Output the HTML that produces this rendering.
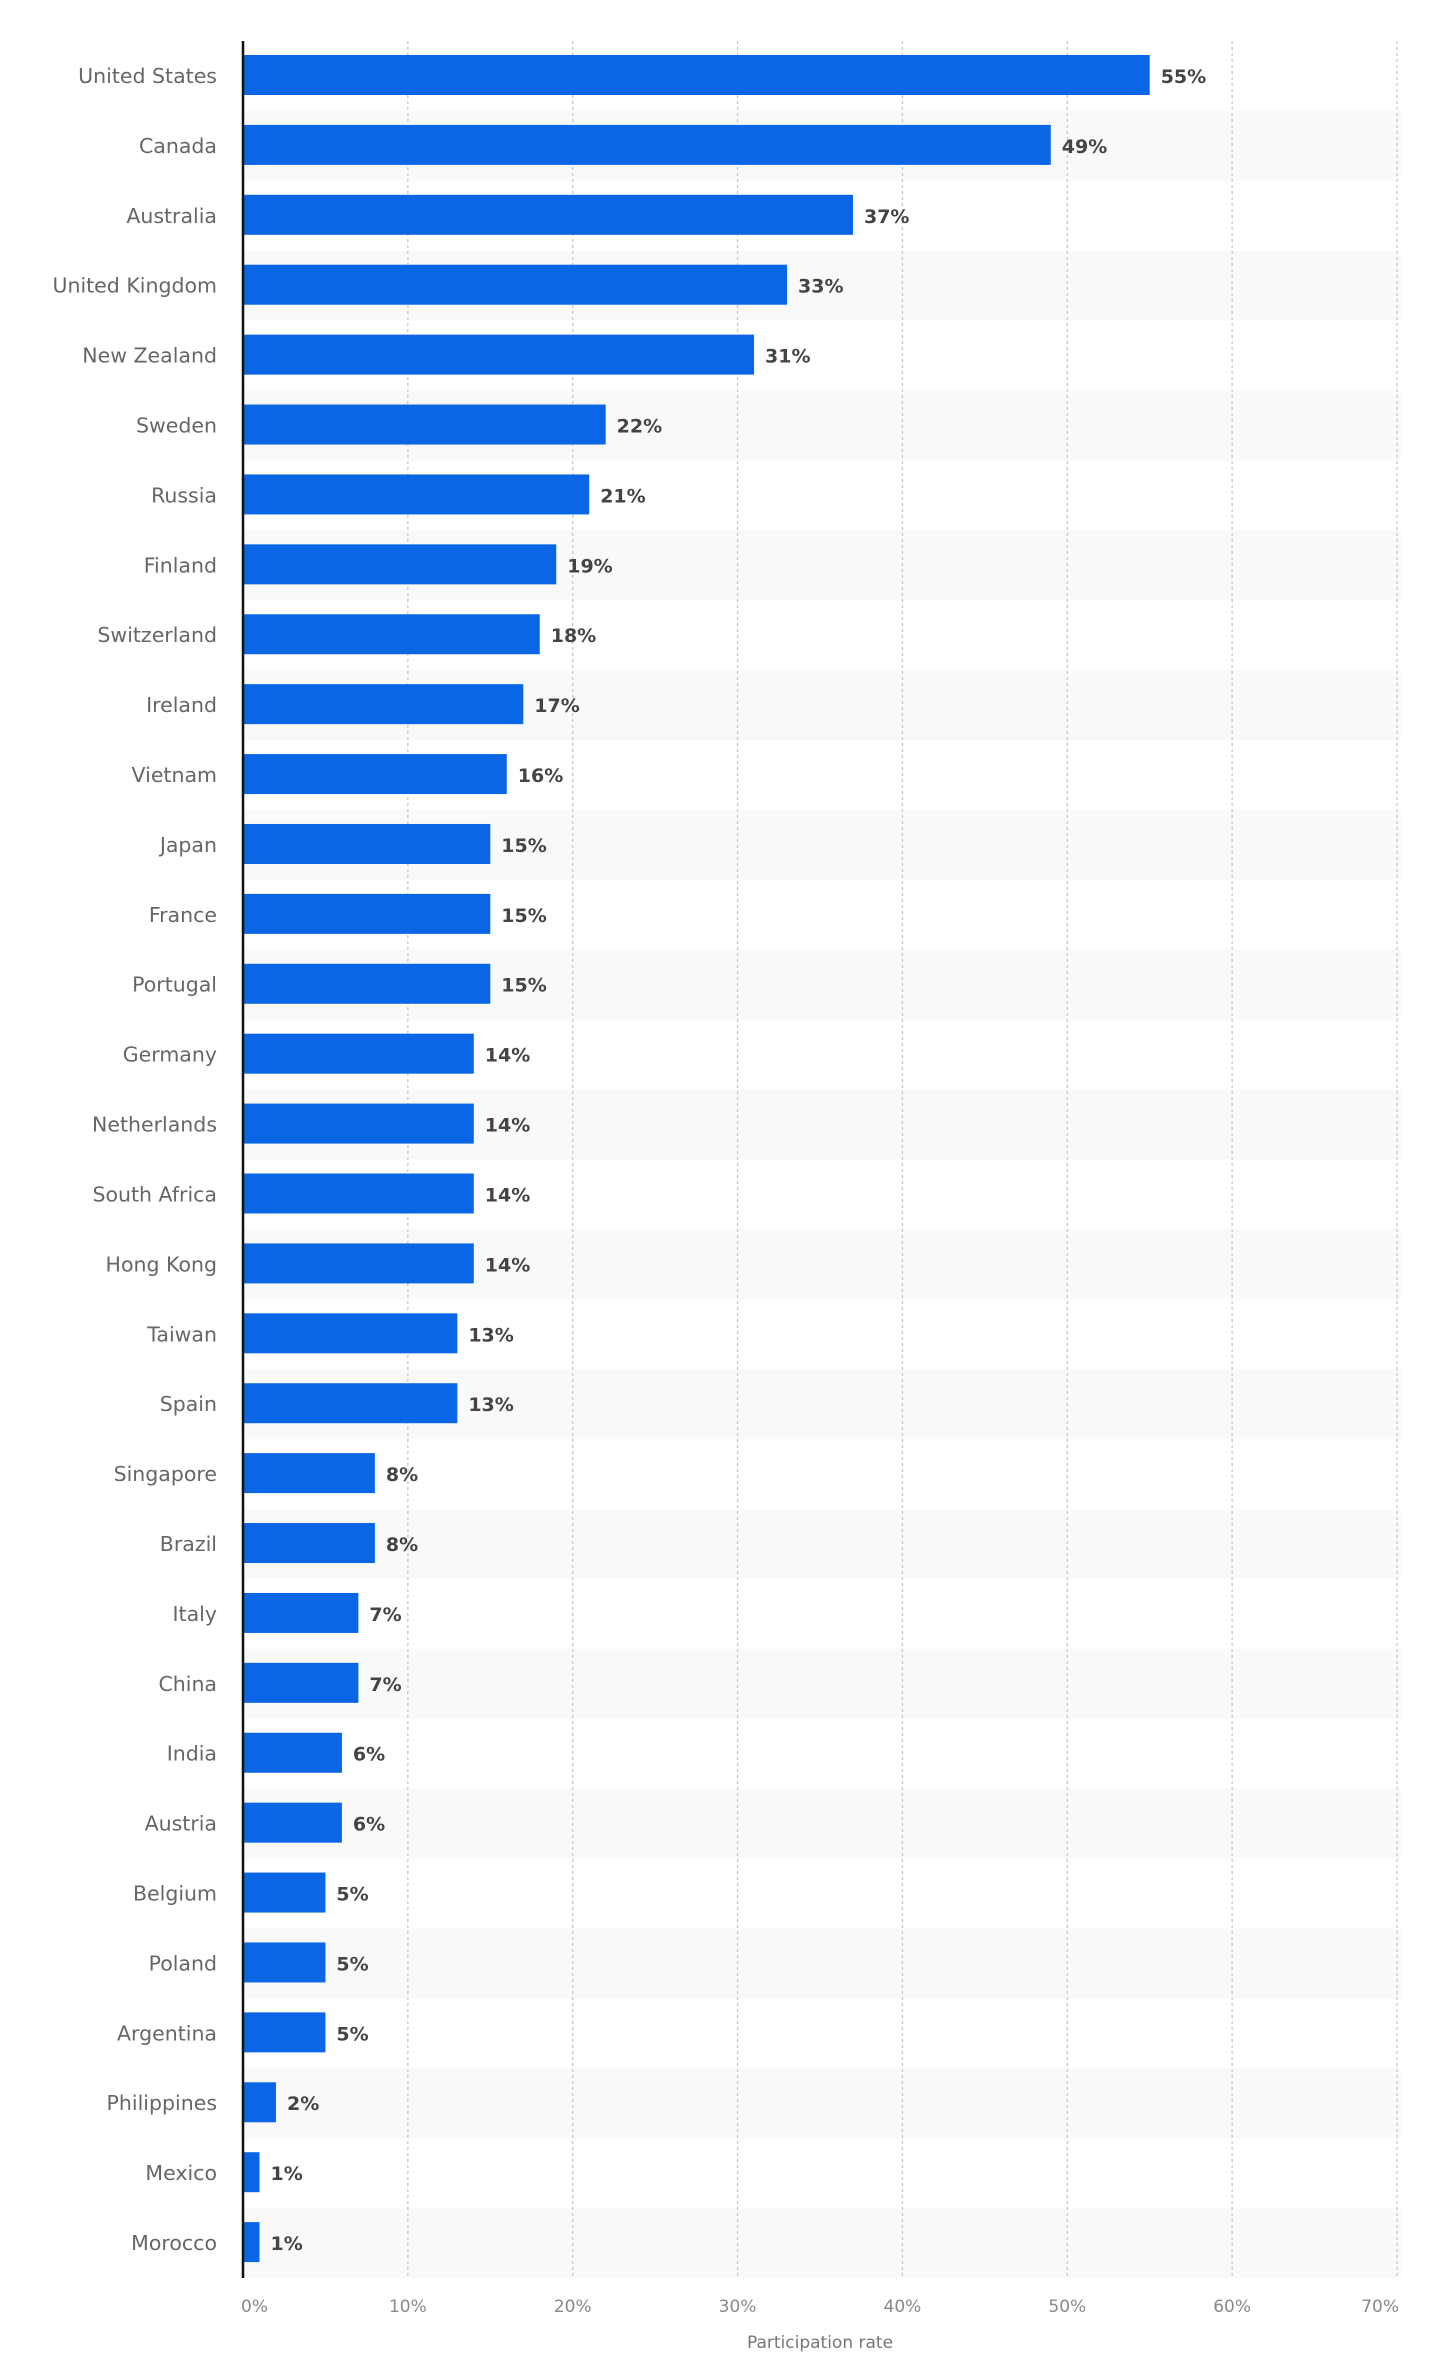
<!DOCTYPE html>
<html><head><meta charset="utf-8"><style>
html,body{margin:0;padding:0;background:#fff;}
svg{display:block;font-family:"DejaVu Sans","Liberation Sans",sans-serif;}
</style></head><body>
<svg id="chart" width="1440" height="2378" viewBox="0 0 1440 2378" xmlns="http://www.w3.org/2000/svg"></svg>
<script>
const categories = ["United States","Canada","Australia","United Kingdom","New Zealand","Sweden","Russia","Finland","Switzerland","Ireland","Vietnam","Japan","France","Portugal","Germany","Netherlands","South Africa","Hong Kong","Taiwan","Spain","Singapore","Brazil","Italy","China","India","Austria","Belgium","Poland","Argentina","Philippines","Mexico","Morocco"];
const values = [55,49,37,33,31,22,21,19,18,17,16,15,15,15,14,14,14,14,13,13,8,8,7,7,6,6,5,5,5,2,1,1];
const ticks = [0,10,20,30,40,50,60,70];
const axisTitle = "Participation rate";

const NS = "http://www.w3.org/2000/svg";
const svg = document.getElementById('chart');
const x0 = 243, x70 = 1397, plotTop = 41, plotBottom = 2278;
const rowH = (plotBottom - plotTop) / categories.length;
function xs(v){ return x0 + (x70 - x0) * v / 70; }
function mk(tag, attrs, parent){
  const e = document.createElementNS(NS, tag);
  for (const k in attrs) e.setAttribute(k, attrs[k]);
  (parent || svg).appendChild(e);
  return e;
}
categories.forEach((c,i)=>{
  if (i % 2 === 1) {
    const r = mk('rect',{x:x0,y:plotTop+i*rowH,width:xs(70)-x0+4,height:rowH,fill:'#f9f9f9'});
    
    
  }
});
ticks.forEach(t=>{
  if (t === 0) return;
  const g = mk('line',{x1:xs(t),x2:xs(t),y1:plotTop,y2:plotBottom,stroke:'#c8c8c8','stroke-width':1.3,'stroke-dasharray':'3,3'});
  
  
});
categories.forEach((c,i)=>{
  const y = plotTop + i*rowH;
  const b = mk('rect',{x:x0,y:y+14,width:xs(values[i])-x0,height:40,fill:'#0a66e4'});
  
  
  const l = mk('text',{x:217,y:y+rowH/2+7,'text-anchor':'end','font-size':20.5,fill:'#666'});
  l.textContent = c;
  
  
  const v = mk('text',{x:xs(values[i])+11,y:y+rowH/2+7,'font-size':19,'font-weight':'bold',fill:'#444'});
  v.textContent = values[i] + '%';
  
  
});
const ax = mk('line',{x1:x0,x2:x0,y1:plotTop,y2:plotBottom,stroke:'#111','stroke-width':2.5});


ticks.forEach((t,i)=>{
  const anchor = i===0 ? 'start' : (i===ticks.length-1 ? 'end' : 'middle');
  const tx = i===0 ? x0-2 : (i===ticks.length-1 ? xs(t)+2 : xs(t));
  const e = mk('text',{x:tx,y:2312,'text-anchor':anchor,'font-size':17,fill:'#888'});
  e.textContent = t + '%';
  
  
});
const at = mk('text',{x:(x0+x70)/2,y:2348,'text-anchor':'middle','font-size':17,fill:'#777'});
at.textContent = axisTitle;


</script>
</body></html>
